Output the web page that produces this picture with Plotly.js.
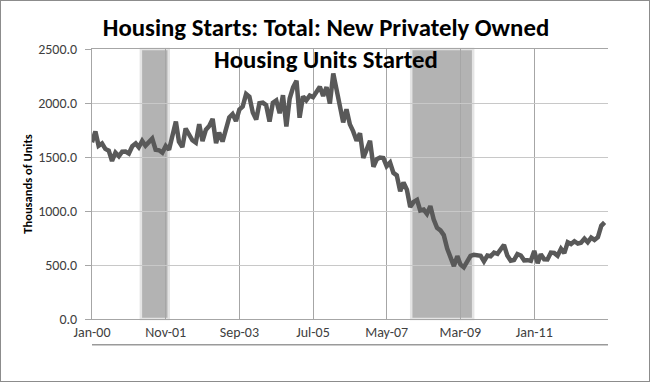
<!DOCTYPE html>
<html>
<head>
<meta charset="utf-8">
<script src="https://cdn.plot.ly/plotly-3.0.1.min.js"></script>
<style>
html,body{margin:0;padding:0;background:#fff;}
#chart{width:650px;height:382px;box-sizing:border-box;border:1px solid #8c8c8c;}
</style>
</head>
<body>
<div id="chart"></div>
<script>
// Monthly housing starts, thousands of units (SAAR), Jan 2000 - Oct 2012
const startYear = 2000;
const starts2000 = [1636,1737,1604,1626,1575,1559,1463,1541,1507,1549,1551,1532];
const starts2001 = [1600,1625,1590,1649,1605,1636,1670,1567,1562,1540,1602,1568];
const starts2002 = [1698,1829,1642,1592,1764,1717,1655,1633,1804,1648,1753,1788];
const starts2003 = [1853,1629,1726,1643,1751,1867,1897,1833,1939,1967,2083,2057];
const starts2004 = [1911,1846,1998,2003,1981,1828,2002,2024,1905,2072,1782,2042];
const starts2005 = [2144,2207,1864,2061,2025,2068,2054,2095,2151,2065,2147,1994];
const starts2006 = [2273,2119,1969,1821,1942,1802,1737,1650,1720,1491,1570,1649];
const starts2007 = [1409,1480,1495,1490,1415,1448,1354,1330,1183,1264,1197,1037];
const starts2008 = [1084,1103,1005,1013,973,1046,923,844,820,777,652,560];
const starts2009 = [490,582,505,478,540,585,594,586,585,534,588,581];
const starts2010 = [614,604,636,687,588,539,546,601,588,543,545,539];
const starts2011 = [630,517,600,553,551,615,611,585,650,610,711,694];
const starts2012 = [720,699,706,744,711,754,733,758,863,894];

const yearlyValues = [starts2000,starts2001,starts2002,starts2003,starts2004,starts2005,
  starts2006,starts2007,starts2008,starts2009,starts2010,starts2011,starts2012];

// Recession periods (shaded)
const recessionStart = ['2001-03-20','2007-12-10'];
const recessionEnd   = ['2001-11-28','2009-06-25'];

// Axis ticks
const xTickVals = ['2000-01-01','2001-11-01','2003-09-01','2005-07-01','2007-05-01','2009-03-01','2011-01-01'];
const xTickText = ['Jan-00','Nov-01','Sep-03','Jul-05','May-07','Mar-09','Jan-11'];
const yTickVals = [0,500,1000,1500,2000,2500];
const yTickText = ['0.0','500.0','1000.0','1500.0','2000.0','2500.0'];

const dates = [], values = [];
yearlyValues.forEach((arr, yi) => {
  arr.forEach((v, mi) => {
    const y = startYear + yi;
    const m = String(mi + 1).padStart(2, '0');
    dates.push(y + '-' + m + '-01');
    values.push(v);
  });
});

const font = "Carlito, Lato, 'Open Sans', sans-serif";

const shapes = recessionStart.map((s, i) => ({
  type: 'rect', xref: 'x', yref: 'paper', x0: s, x1: recessionEnd[i], y0: 0, y1: 1,
  fillcolor: '#b3b3b3', line: {color: '#e4e4e4', width: 2.5}, layer: 'between'
}));
// secondary axis line under the tick labels
shapes.push({type: 'line', xref: 'paper', yref: 'paper', x0: 0, x1: 1, y0: -0.095, y1: -0.095,
  line: {color: '#9a9a9a', width: 1.5}});

const trace = {
  x: dates, y: values, type: 'scatter', mode: 'lines',
  line: {color: '#595959', width: 4.5}, hoverinfo: 'x+y'
};

const layout = {
  width: 650, height: 382,
  margin: {l: 91, r: 43, t: 48, b: 64},
  paper_bgcolor: 'rgba(0,0,0,0)', plot_bgcolor: '#fff',
  showlegend: false,
  title: {
    text: '<b>Housing Starts: Total: New Privately Owned<br>Housing Units Started</b>',
    font: {family: font, size: 24.8, color: '#000'},
    x: 0.5, xanchor: 'center', yref: 'container', y: 0.908, yanchor: 'middle'
  },
  xaxis: {
    type: 'date', range: ['2000-01-01', '2012-11-01'],
    tickmode: 'array', tickvals: xTickVals, ticktext: xTickText,
    showgrid: true, gridcolor: '#a6a6a6', gridwidth: 1,
    showline: true, linecolor: '#a6a6a6', linewidth: 1, mirror: true,
    ticks: '', tickfont: {family: font, size: 14, color: '#404040'},
    zeroline: false
  },
  yaxis: {
    range: [0, 2500], tickmode: 'array', tickvals: yTickVals, ticktext: yTickText,
    showgrid: true, gridcolor: '#c8c8c8', gridwidth: 1,
    showline: true, linecolor: '#a6a6a6', linewidth: 1,
    ticks: 'outside', ticklen: 6, tickcolor: '#a6a6a6', ticklabelstandoff: 5,
    tickfont: {family: font, size: 14, color: '#404040'},
    title: {text: '<b>Thousands of Units</b>', font: {family: font, size: 12.5, color: '#000'}, standoff: 2},
    zeroline: false
  },
  shapes: shapes
};

Plotly.newPlot('chart', [trace], layout, {displayModeBar: false, staticPlot: true});
</script>
</body>
</html>
